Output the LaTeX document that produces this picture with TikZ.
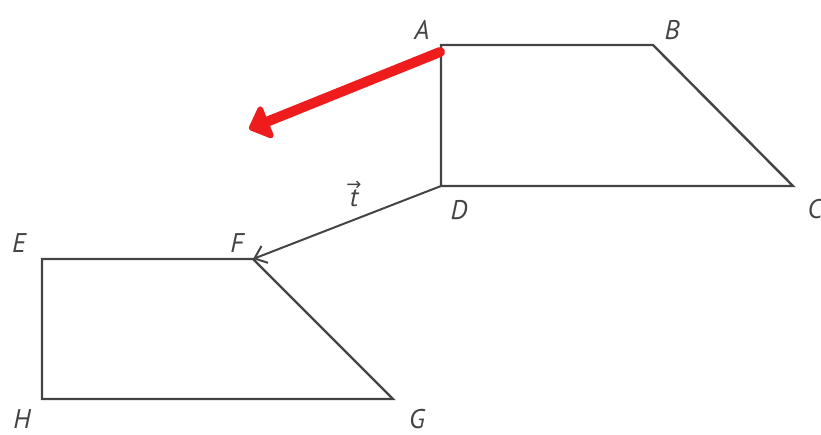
\documentclass[tikz,border=0pt]{standalone}
\usepackage{fontspec}
\setmainfont{PT Sans}
\newfontfamily\arrfont{DejaVu Sans}
\usetikzlibrary{arrows.meta}
\definecolor{edge}{HTML}{444444}
\definecolor{redarrow}{HTML}{EE1C1C}
\tikzset{
  fig/.style={draw=edge, line width=2.4pt, line join=miter},
  lbl/.style={font=\fontsize{27}{30}\selectfont\itshape, text=edge, inner sep=0pt},
}
\begin{document}
\begin{tikzpicture}[x=1pt,y=-1pt]
\useasboundingbox (0,0) rectangle (821,435);
\coordinate (A) at (441,45);
\coordinate (B) at (653,45);
\coordinate (C) at (793,186);
\coordinate (D) at (441,186);
\coordinate (E) at (42,259);
\coordinate (F) at (253,259);
\coordinate (G) at (393,399);
\coordinate (H) at (42,399);
\coordinate (R0) at (440,52);
\coordinate (R1) at (249,129);
\draw[fig] (A) -- (B) -- (C) -- (D) -- cycle;
\draw[fig] (E) -- (F) -- (G) -- (H) -- cycle;
\draw[draw=edge, line width=2pt, -{Straight Barb[length=11pt,width=18pt,line width=2pt]}] (D) -- (F);
\draw[redarrow, line width=10pt, line cap=round, -{Triangle[length=22pt,width=40pt,round]}] (R0) -- (R1);
\node[lbl] (lA) at (422,30) {A};
\node[lbl] (lB) at (672,30) {B};
\node[lbl] (lC) at (815,209) {C};
\node[lbl] (lD) at (459,210) {D};
\node[lbl] (lE) at (19,243) {E};
\node[lbl] (lF) at (237,243) {F};
\node[lbl] (lG) at (417,419) {G};
\node[lbl] (lH) at (22,419) {H};
\node[lbl, align=center] (lt) at (354,194) {\shortstack{{\arrfont\upshape\fontsize{18}{18}\selectfont →}\\[-3pt]t}};
\end{tikzpicture}
\end{document}
